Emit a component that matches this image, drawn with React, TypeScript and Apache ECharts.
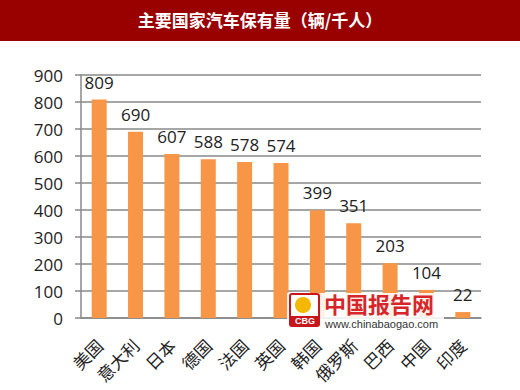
import React, { useEffect, useRef } from "react";
import * as echarts from "echarts";

const categories = ["美国", "意大利", "日本", "德国", "法国", "英国", "韩国", "俄罗斯", "巴西", "中国", "印度"];
const values = [809, 690, 607, 588, 578, 574, 399, 351, 203, 104, 22];
const titleText = "主要国家汽车保有量（辆/千人）";

export default function App() {
  const ref = useRef<HTMLDivElement>(null);
  useEffect(() => {
    if (!ref.current) return;
    const chart = echarts.init(ref.current, undefined, { renderer: "svg" });
    chart.setOption({
      animation: false,
      backgroundColor: "#fff",
      graphic: [
        { type: "rect", left: 0, top: 0, shape: { width: 520, height: 41 }, style: { fill: "#990000" } },
        {
          type: "text", left: "center", top: 11,
          style: { text: titleText, fill: "#fff", font: "bold 17px 'Noto Sans CJK SC'" },
        },
        { type: "rect", left: 287, top: 293, shape: { width: 157, height: 40 }, style: { fill: "#fff", opacity: 0.88 }, z: 99 },
        { type: "rect", left: 289, top: 293, shape: { width: 29, height: 32, r: 2 }, style: { fill: "#fff", stroke: "#c8161d", lineWidth: 2 }, z: 100 },
        { type: "circle", shape: { cx: 303, cy: 305, r: 8 }, style: { fill: "#f5b800" }, z: 101 },
        { type: "rect", left: 289, top: 316, shape: { width: 29, height: 9 }, style: { fill: "#c8161d" }, z: 101 },
        { type: "text", left: 295, top: 316, style: { text: "CBG", fill: "#fff", font: "bold 9px 'Liberation Sans'" }, z: 102 },
        {
          type: "text", left: 324, top: 292,
          style: { text: "中国报告网", fill: "#d7262a", font: "bold 22px 'Noto Sans CJK SC'" }, z: 100,
        },
        {
          type: "text", left: 325, top: 318,
          style: { text: "www.chinabaogao.com", fill: "#333", font: "11px 'Liberation Sans'" }, z: 100,
        },
      ],
      grid: { left: 81, right: 39, top: 75, bottom: 72 },
      xAxis: {
        type: "category",
        data: categories,
        axisLine: { lineStyle: { color: "#888", width: 1.5 } },
        axisTick: { lineStyle: { color: "#888", width: 1.5 }, length: 6 },
        axisLabel: {
          rotate: 45, interval: 0, fontSize: 17, color: "#222", margin: 24,
          fontFamily: "'Noto Sans CJK SC'",
        },
      },
      yAxis: {
        type: "value", min: 0, max: 900, interval: 100,
        axisLine: { show: true, lineStyle: { color: "#888", width: 1.5 } },
        axisTick: { show: true, lineStyle: { color: "#888", width: 1.5 }, length: 6, inside: false },
        splitLine: { lineStyle: { color: "#888", width: 1.5 } },
        axisLabel: { fontSize: 17, color: "#222", margin: 18, fontFamily: "'Open Sans'" },
      },
      series: [
        {
          type: "bar",
          data: values,
          barWidth: 15,
          itemStyle: { color: "#F79646" },
          label: {
            show: true, position: "top", distance: 9, fontSize: 17, color: "#222",
            fontFamily: "'Open Sans'",
          },
        },
      ],
    });
    return () => chart.dispose();
  }, []);
  return <div ref={ref} style={{ position: "fixed", left: 0, top: 0, width: 520, height: 390 }} />;
}
